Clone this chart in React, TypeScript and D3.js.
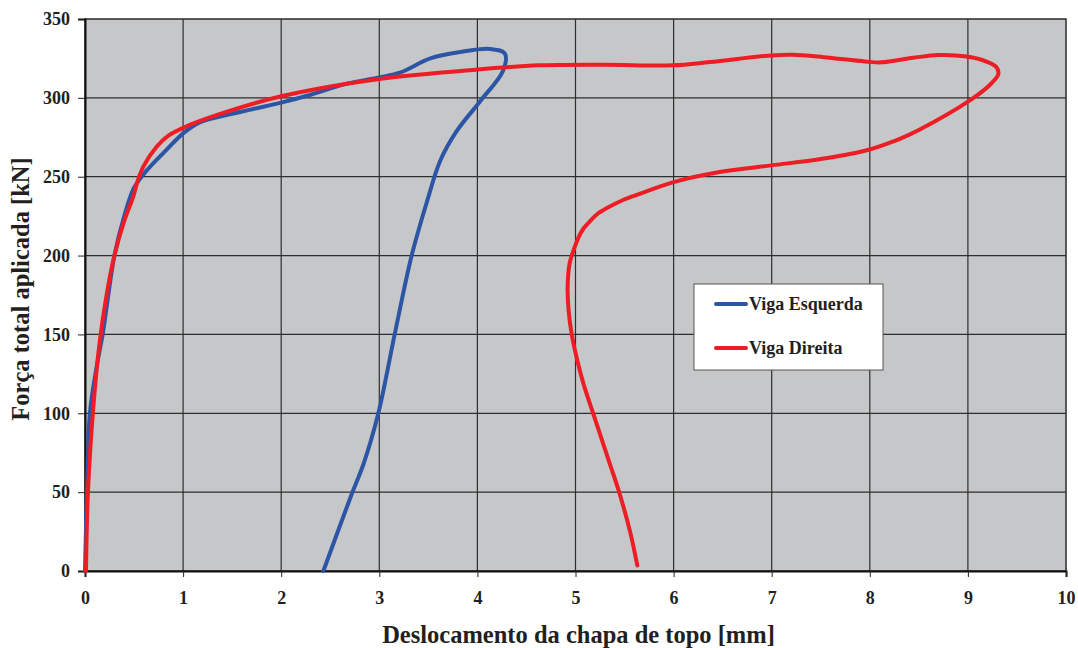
import { useEffect, useRef } from 'react';
import * as d3 from 'd3';

// Deslocamento [mm] / Força [kN]
const esquerdaX = [0, 0.02, 0.05, 0.12, 0.18, 0.3, 0.4, 0.5, 0.63, 0.83, 1.0, 1.17, 1.51, 2.0, 2.3, 2.67, 3.0, 3.21, 3.52, 3.82, 4.13, 4.28, 4.26, 4.03, 3.79, 3.62, 3.49, 3.33, 3.16, 2.99, 2.84, 2.72, 2.43];
const esquerdaY = [0, 50, 100, 130, 150, 200, 225, 243, 254, 267, 277.5, 284.5, 290, 297, 302, 309, 313, 316, 325, 329, 331, 328, 317, 298, 279, 260, 235, 200, 151, 100, 68, 49, 0];

const direitaX = [0.01, 0.03, 0.08, 0.14, 0.22, 0.3, 0.4, 0.49, 0.54, 0.6, 0.73, 0.85, 1.0, 1.34, 2.0, 3.0, 4.0, 4.63, 5.3, 5.99, 6.37, 7.0, 7.21, 7.53, 7.95, 8.12, 8.44, 8.7, 8.99, 9.19, 9.29, 9.31, 9.22, 9.02, 8.5, 8.3, 8.12, 7.95, 7.5, 7.0, 6.47, 6.0, 5.66, 5.49, 5.32, 5.22, 5.15, 5.08, 5.03, 4.98, 4.94, 4.92, 4.93, 4.96, 5.01, 5.08, 5.18, 5.35, 5.45, 5.56, 5.63];
const direitaY = [0, 50, 100, 140, 175, 200, 222, 237, 248, 257, 269, 276, 281, 289, 301, 312, 318, 320.6, 321, 320.6, 322.7, 326.9, 327.3, 325.8, 323.1, 322.5, 325.4, 327.2, 326.2, 323, 319.5, 315, 308, 298.4, 279.6, 273.8, 269.7, 266.5, 261.2, 257.2, 253, 246.6, 239.3, 235.4, 230.1, 226.2, 222, 217, 211.4, 203.3, 195, 180, 165, 150.6, 135.7, 119, 100, 68, 49, 24, 3.5];

const xTicks = [0, 1, 2, 3, 4, 5, 6, 7, 8, 9, 10];
const yTicks = [0, 50, 100, 150, 200, 250, 300, 350];

const seriesNames = ['Viga Esquerda', 'Viga Direita'];
const seriesColors = ['#2d55a5', '#ee1d25'];

const W = 1078;
const H = 648;
const plot = { left: 85, right: 1066, top: 19, bottom: 571 };
const font = '"Liberation Serif", "Times New Roman", serif';

export default function App() {
    const ref = useRef<SVGSVGElement>(null);

    useEffect(() => {
        if (!ref.current) return;
        const svg = d3.select(ref.current);
        svg.selectAll('*').remove();

        const x = d3.scaleLinear().domain([0, 10]).range([plot.left, plot.right]);
        const y = d3.scaleLinear().domain([0, 350]).range([plot.bottom, plot.top]);

        // plot background
        svg.append('rect')
            .attr('x', plot.left).attr('y', plot.top)
            .attr('width', plot.right - plot.left).attr('height', plot.bottom - plot.top)
            .attr('fill', '#c6c7c9');

        // grid
        const grid = svg.append('g').attr('stroke', '#2e2e2e').attr('stroke-width', 1.2);
        grid.selectAll('line.v').data(xTicks.slice(1, -1)).join('line')
            .attr('x1', d => x(d)).attr('x2', d => x(d))
            .attr('y1', plot.top).attr('y2', plot.bottom);
        grid.selectAll('line.h').data(yTicks.slice(1, -1)).join('line')
            .attr('x1', plot.left).attr('x2', plot.right)
            .attr('y1', d => y(d)).attr('y2', d => y(d));

        // plot border
        svg.append('rect')
            .attr('x', plot.left).attr('y', plot.top)
            .attr('width', plot.right - plot.left).attr('height', plot.bottom - plot.top)
            .attr('fill', 'none').attr('stroke', '#2a2a2a').attr('stroke-width', 1.5);

        // axes
        const xAxis = svg.append('g')
            .attr('transform', `translate(0,${plot.bottom})`)
            .call(d3.axisBottom(x).tickValues(xTicks).tickSize(6).tickPadding(14).tickFormat(d3.format('d')));
        const yAxis = svg.append('g')
            .attr('transform', `translate(${plot.left},0)`)
            .call(d3.axisLeft(y).tickValues(yTicks).tickSize(7).tickPadding(8).tickFormat(d3.format('d')));
        [xAxis, yAxis].forEach(a => {
            a.select('.domain').attr('stroke', '#111').attr('stroke-width', 2);
            a.selectAll('.tick line').attr('stroke', '#222');
            a.selectAll('.tick text')
                .attr('fill', '#231f20')
                .style('font-family', font)
                .style('font-weight', 'bold')
                .style('font-size', '18px');
        });

        // curves
        const line = d3.line<[number, number]>()
            .x(d => x(d[0]))
            .y(d => y(d[1]))
            .curve(d3.curveCatmullRom.alpha(0.5));
        const series: [number, number][][] = [
            esquerdaX.map((v, i) => [v, esquerdaY[i]]),
            direitaX.map((v, i) => [v, direitaY[i]]),
        ];
        series.forEach((pts, i) => {
            svg.append('path')
                .attr('d', line(pts))
                .attr('fill', 'none')
                .attr('stroke', seriesColors[i])
                .attr('stroke-width', 4)
                .attr('stroke-linejoin', 'round')
                .attr('stroke-linecap', 'round');
        });

        // legend
        const lg = svg.append('g').attr('transform', 'translate(694,284)');
        lg.append('rect')
            .attr('width', 189).attr('height', 86)
            .attr('fill', '#fff').attr('stroke', '#555').attr('stroke-width', 1);
        seriesNames.forEach((name, i) => {
            const cy = 20 + i * 44;
            lg.append('line')
                .attr('x1', 22).attr('x2', 52).attr('y1', cy).attr('y2', cy)
                .attr('stroke', seriesColors[i]).attr('stroke-width', 4)
                .attr('stroke-linecap', 'round');
            lg.append('text')
                .attr('x', 55).attr('y', cy + 6)
                .attr('fill', '#231f20')
                .style('font-family', font).style('font-weight', 'bold').style('font-size', '18px')
                .text(name);
        });

        // axis titles
        svg.append('text')
            .attr('x', (plot.left + plot.right) / 2 + 3).attr('y', 643)
            .attr('text-anchor', 'middle')
            .attr('fill', '#231f20')
            .style('font-family', font).style('font-weight', 'bold').style('font-size', '24.5px')
            .text('Deslocamento da chapa de topo [mm]');
        svg.append('text')
            .attr('transform', `translate(29,${(plot.top + plot.bottom) / 2 - 6}) rotate(-90)`)
            .attr('text-anchor', 'middle')
            .attr('fill', '#231f20')
            .style('font-family', font).style('font-weight', 'bold').style('font-size', '24.5px')
            .text('Força total aplicada [kN]');
    }, []);

    return (
        <svg
            ref={ref}
            width={W}
            height={H}
            style={{ position: 'absolute', left: 0, top: 0, display: 'block', background: '#fff' }}
        />
    );
}
